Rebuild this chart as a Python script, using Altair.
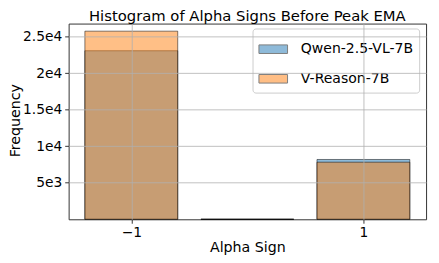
import altair as alt
import pandas as pd

signs = [-1, 0, 1]
qwen_counts = [23080, 0, 8190]
vreason_counts = [25760, 0, 7820]
series = ["Qwen-2.5-VL-7B", "V-Reason-7B"]
y_ticks = [5000, 10000, 15000, 20000, 25000]
x_ticks = [-1, 1]

rows = []
for i, s in enumerate(signs):
    rows.append({"sign": s, "count": qwen_counts[i], "model": series[0], "order": 0})
for i, s in enumerate(signs):
    rows.append({"sign": s, "count": vreason_counts[i], "model": series[1], "order": 1})
df = pd.DataFrame(rows)

FONT = "DejaVu Sans"

chart = (
    alt.Chart(df)
    .transform_calculate(x0="datum.sign - 0.4", x1="datum.sign + 0.4")
    .mark_bar(fillOpacity=0.5, stroke="black", strokeOpacity=0.5, strokeWidth=1)
    .encode(
        x=alt.X(
            "x0:Q",
            scale=alt.Scale(domain=[-1.54, 1.54], nice=False, zero=False),
            axis=alt.Axis(
                values=x_ticks,
                format="d",
                title="Alpha Sign",
                grid=True,
                gridColor="#b0b0b0",
                gridWidth=0.8,
                tickColor="#333",
                tickSize=4,
                labelFontSize=14,
                titleFontSize=14.4,
                titleFontWeight="normal",
                labelPadding=2.5,
                titlePadding=1,
                domain=False,
                labelFont=FONT,
                titleFont=FONT,
                labelColor="black",
                titleColor="black",
                zindex=1,
            ),
        ),
        x2="x1:Q",
        y=alt.Y(
            "count:Q",
            stack=None,
            scale=alt.Scale(domain=[0, 26800], nice=False),
            axis=alt.Axis(
                values=y_ticks,
                labelExpr="format(datum.value / pow(10, floor(log(datum.value)/LN10 + 1e-9)), '~g') + 'e' + floor(log(datum.value)/LN10 + 1e-9)",
                title="Frequency",
                grid=True,
                gridColor="#b0b0b0",
                gridWidth=0.8,
                tickColor="#333",
                tickSize=4,
                labelFontSize=14,
                titleFontSize=14.4,
                titleFontWeight="normal",
                labelPadding=3,
                titleX=-50,
                titleY=98,
                titleAngle=270,
                titleAlign="center",
                titleBaseline="alphabetic",
                domain=False,
                labelFont=FONT,
                titleFont=FONT,
                labelColor="black",
                titleColor="black",
                zindex=1,
            ),
        ),
        y2=alt.datum(0),
        fill=alt.Fill(
            "model:N",
            scale=alt.Scale(domain=series, range=["#1f77b4", "#ff7f0e"]),
            legend=alt.Legend(
                title=None,
                orient="none",
                legendX=186.5,
                legendY=5,
                symbolType="M-1,-0.3H1V0.3H-1Z",
                symbolSize=841,
                symbolOpacity=0.5,
                symbolStrokeColor="black",
                symbolStrokeWidth=1,
                labelFontSize=14.2,
                labelFont=FONT,
                labelColor="black",
                labelOffset=13,
                padding=6,
                rowPadding=7,
                fillColor="rgba(255,255,255,0.8)",
                strokeColor="#cccccc",
                cornerRadius=3,
            ),
        ),
        order=alt.Order("order:Q"),
    )
    .properties(
        width=362.5,
        height=198.5,
        title=alt.Title(
            "Histogram of Alpha Signs Before Peak EMA",
            fontSize=15,
            font=FONT,
            fontWeight="normal",
            color="black",
            offset=0,
        ),
        autosize=alt.AutoSizeParams(type="none"),
        padding={"left": 61.5, "top": 14, "right": 5, "bottom": 40},
    )
    .configure_view(stroke="#333", strokeWidth=1)
)

chart.save("out.html", embed_options={"renderer": "svg", "actions": False})
